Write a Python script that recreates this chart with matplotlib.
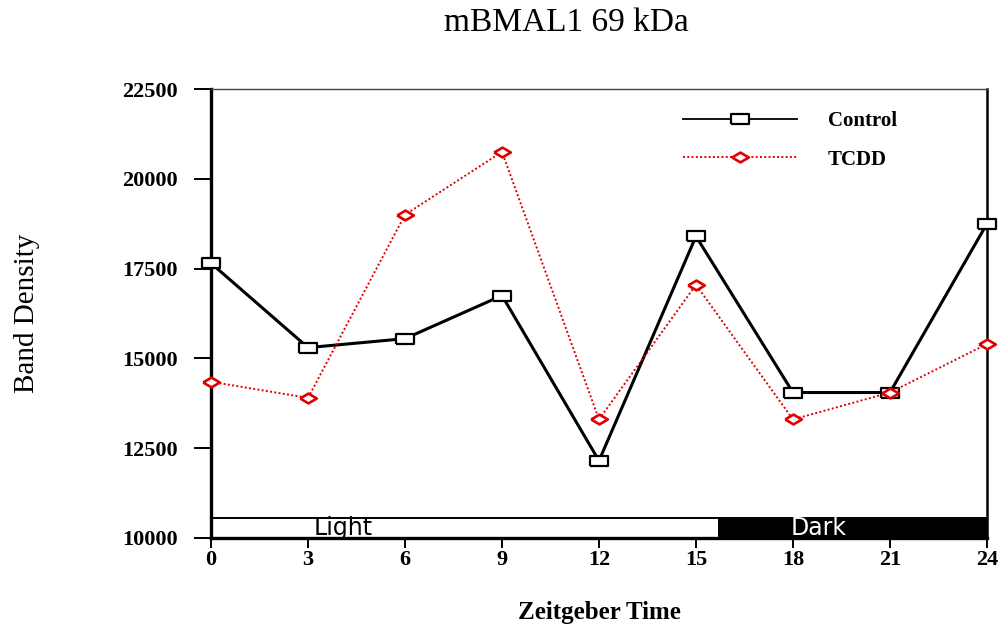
import numpy as np
import matplotlib.pyplot as plt
from matplotlib.patches import Rectangle

# Band density of mBMAL1 (69 kDa) over the day
zt = [0, 3, 6, 9, 12, 15, 18, 21, 24]
control = [17650, 15300, 15550, 16750, 12150, 18400, 14050, 14050, 18750]
tcdd = [14350, 13900, 19000, 20750, 13300, 17050, 13300, 14050, 15400]

light_span = (0, 15.7)
dark_span = (15.7, 24)

serif = ['Liberation Serif', 'DejaVu Serif']

# wide markers: open box and open diamond
box = [(-1.9, -1), (1.9, -1), (1.9, 1), (-1.9, 1), (-1.9, -1)]
diamond = [(-1.7, 0), (0, 1), (1.7, 0), (0, -1), (-1.7, 0)]

fig = plt.figure(figsize=(10.03, 6.26), dpi=100)
ax = fig.add_axes([0.2104, 0.1406, 0.7736, 0.7172])

ax.plot(zt, control, color='black', lw=2.2, marker=box, markersize=13,
        markerfacecolor='white', markeredgecolor='black', markeredgewidth=1.6,
        label='Control', zorder=4, clip_on=False)
ax.plot(zt, tcdd, color='#e00000', lw=1.4, ls=(0, (1, 1.2)), marker=diamond,
        markersize=12, markerfacecolor='white', markeredgecolor='#e00000',
        markeredgewidth=1.9, label='TCDD', zorder=5, clip_on=False)

# light / dark bar along the bottom
ax.add_patch(Rectangle((light_span[0], 10000), light_span[1] - light_span[0], 560,
                       facecolor='white', edgecolor='black', lw=1.4, zorder=2))
ax.add_patch(Rectangle((dark_span[0], 10000), dark_span[1] - dark_span[0], 560,
                       facecolor='black', edgecolor='black', lw=1.4, zorder=2))
ax.text(4.1, 10270, 'Light', ha='center', va='center', fontsize=17,
        color='black', zorder=3)
ax.text(18.8, 10270, 'Dark', ha='center', va='center', fontsize=17,
        color='white', zorder=3)

ax.set_xlim(0, 24)
ax.set_ylim(10000, 22500)
ax.set_xticks(zt)
ax.set_yticks([10000, 12500, 15000, 17500, 20000, 22500])

for lab in ax.get_xticklabels() + ax.get_yticklabels():
    lab.set_family(serif)
    lab.set_fontweight('bold')
    lab.set_fontsize(16)

ax.tick_params(axis='y', direction='out', length=12, width=1.4, pad=12)
ax.tick_params(axis='x', direction='out', length=7, width=1.4, pad=2)

ax.spines['left'].set_linewidth(2.4)
ax.spines['bottom'].set_linewidth(2.4)
ax.spines['right'].set_linewidth(1.8)
ax.spines['top'].set_linewidth(1.0)
ax.spines['top'].set_color('#444444')

ax.set_xlabel('Zeitgeber Time', family=serif, fontweight='bold', fontsize=18,
              labelpad=22)
fig.text(0.027, 0.5, 'Band Density', rotation=90, ha='center', va='center',
         family=serif, fontsize=21)
fig.text(0.565, 0.963, 'mBMAL1 69 kDa', ha='center', va='center',
         family=serif, fontsize=24)

leg = ax.legend(loc='upper left', bbox_to_anchor=(0.608, 0.951), frameon=False,
                borderpad=0, borderaxespad=0,
                handlelength=5.5, handletextpad=1.45, labelspacing=0.9,
                prop={'family': serif, 'weight': 'bold', 'size': 15})
leg.get_lines()[0].set_linewidth(1.3)

fig.savefig('out.png', dpi=100)
